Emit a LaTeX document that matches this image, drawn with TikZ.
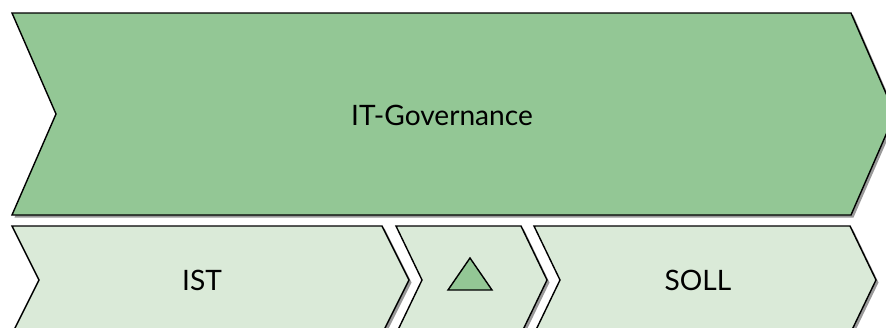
\documentclass[tikz,border=0pt]{standalone}
\usepackage{fontspec}
\setmainfont{Lato}
\usepackage{tikz}
\usetikzlibrary{shadows}
\definecolor{govgreen}{RGB}{147,199,149}
\definecolor{palegreen}{RGB}{218,234,216}

\begin{document}
\begin{tikzpicture}
  [x=0.02cm,y=-0.02cm,
   chevron/.style={draw=black,line width=0.8pt,line join=miter,
     drop shadow={shadow xshift=0.05cm,shadow yshift=-0.05cm,fill=black!40,opacity=1}},
   every node/.style={font=\fontsize{16}{19}\selectfont,anchor=base}]

  \useasboundingbox[fill=white] (0,0) rectangle (886,328);

  \foreach \l/\r/\t/\h/\d/\c in {12/851/13/101/44/govgreen,
      12/382/226/54/27/palegreen,396/521/226/54/26/palegreen,534/850/226/54/26/palegreen}
    \draw[chevron,fill=\c] (\l,\t) -- (\r,\t) -- (\r+\d,\t+\h) -- (\r,\t+2*\h)
      -- (\l,\t+2*\h) -- (\l+\d,\t+\h) -- cycle;

  \draw[line width=0.8pt,fill=govgreen] (448,290) -- (470,258) -- (492,290) -- cycle;

  \node (gov) at (442,125) {IT-Governance};
  \node (ist) at (202,290) {IST};
  \node (soll) at (698,290) {SOLL};
\end{tikzpicture}
\end{document}
